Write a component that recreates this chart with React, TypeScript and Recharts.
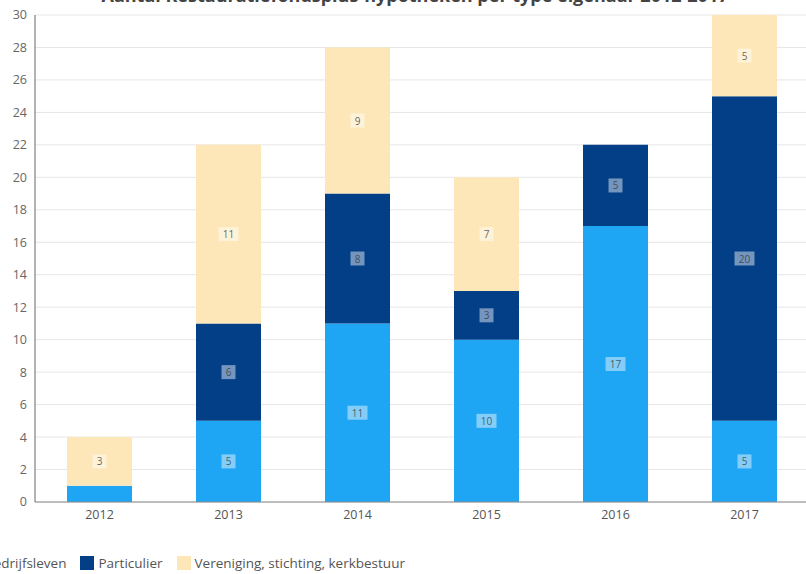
import React from 'react';
import { BarChart, Bar, XAxis, YAxis, CartesianGrid, LabelList } from 'recharts';

const years = ['2012', '2013', '2014', '2015', '2016', '2017'];
const bedrijfsleven = [1, 5, 11, 10, 17, 5];
const particulier = [0, 6, 8, 3, 5, 20];
const vereniging = [3, 11, 9, 7, 0, 5];
const yTicks = [0, 2, 4, 6, 8, 10, 12, 14, 16, 18, 20, 22, 24, 26, 28, 30];

const SERIES = [
  { key: 'bedrijfsleven', name: 'Bedrijfsleven', color: '#1ea6f5' },
  { key: 'particulier', name: 'Particulier', color: '#023f87' },
  { key: 'vereniging', name: 'Vereniging, stichting, kerkbestuur', color: '#fde7b8' },
];

const data = years.map((y, i) => ({
  year: y,
  bedrijfsleven: bedrijfsleven[i],
  particulier: particulier[i],
  vereniging: vereniging[i],
}));

const FONT = '"Open Sans", "DejaVu Sans", sans-serif';

// small boxed value in the middle of a segment
function SegmentLabel(props: any) {
  const { x, y, width, height, value } = props;
  if (!value || height < 20) return null;
  const cx = x + width / 2;
  const cy = y + height / 2;
  const w = String(value).length > 1 ? 20 : 14;
  return (
    <g>
      <rect x={cx - w / 2} y={cy - 7} width={w} height={14} fill="#ffffff" fillOpacity={0.45} />
      <text x={cx} y={cy + 4} textAnchor="middle" fontSize={10} fontFamily={FONT} fill="#333" fillOpacity={0.75}>
        {value}
      </text>
    </g>
  );
}

export default function App() {
  return (
    <div style={{ position: 'absolute', top: 0, left: 0, width: 806, height: 574, overflow: 'hidden', background: '#fff', fontFamily: FONT }}>
      <div style={{ position: 'absolute', top: -17, left: 0, width: 830, textAlign: 'center', fontSize: 18, fontWeight: 700, color: '#444', whiteSpace: 'nowrap' }}>
        Aantal Restauratiefondsplus-hypotheken per type eigenaar 2012-2017
      </div>
      <BarChart width={830} height={574} data={data} margin={{ top: 15, right: 21, bottom: 42, left: 0 }} barSize={65}>
        <CartesianGrid vertical={false} stroke="#e6e6e6" />
        <XAxis dataKey="year" tickLine={false} axisLine={{ stroke: '#888' }} tick={{ fontSize: 12.5, fill: '#555', fontFamily: FONT }} height={30} />
        <YAxis domain={[0, 30]} ticks={yTicks} interval={0} width={35} tickLine={false} axisLine={{ stroke: '#666' }}
          tick={{ fontSize: 12.5, fill: '#666', fontFamily: FONT }} />
        {SERIES.map((s) => (
          <Bar key={s.key} dataKey={s.key} name={s.name} stackId="a" fill={s.color} isAnimationActive={false}>
            <LabelList dataKey={s.key} content={SegmentLabel} />
          </Bar>
        ))}
      </BarChart>
      <div style={{ position: 'absolute', top: 554, left: -33, display: 'flex', alignItems: 'center', fontSize: 13.5, color: '#555', whiteSpace: 'nowrap' }}>
        {SERIES.map((s) => (
          <div key={s.key} style={{ display: 'flex', alignItems: 'center', marginRight: 14 }}>
            <span style={{ display: 'inline-block', width: 14, height: 14, background: s.color, marginRight: 4 }} />
            <span>{s.name}</span>
          </div>
        ))}
      </div>
    </div>
  );
}
